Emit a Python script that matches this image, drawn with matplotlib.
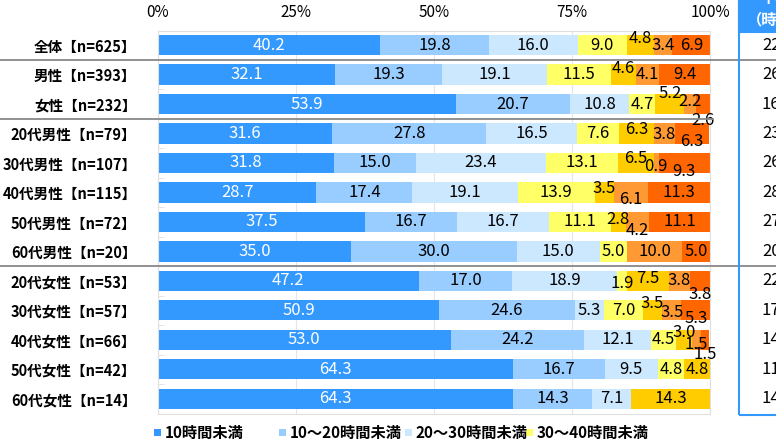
import matplotlib.pyplot as plt
from matplotlib.patches import Rectangle

plt.rcParams['font.family'] = ['Noto Sans CJK JP', 'DejaVu Sans']

# rows, top to bottom
groups = ["全体【n=625】", "男性【n=393】", "女性【n=232】",
          "20代男性【n=79】", "30代男性【n=107】", "40代男性【n=115】",
          "50代男性【n=72】", "60代男性【n=20】",
          "20代女性【n=53】", "30代女性【n=57】", "40代女性【n=66】",
          "50代女性【n=42】", "60代女性【n=14】"]

series_names = ["10時間未満", "10～20時間未満", "20～30時間未満", "30～40時間未満",
                "40～50時間未満", "50～60時間未満", "60時間以上"]

under10 = [40.2, 32.1, 53.9, 31.6, 31.8, 28.7, 37.5, 35.0, 47.2, 50.9, 53.0, 64.3, 64.3]
h10_20 = [19.8, 19.3, 20.7, 27.8, 15.0, 17.4, 16.7, 30.0, 17.0, 24.6, 24.2, 16.7, 14.3]
h20_30 = [16.0, 19.1, 10.8, 16.5, 23.4, 19.1, 16.7, 15.0, 18.9, 5.3, 12.1, 9.5, 7.1]
h30_40 = [9.0, 11.5, 4.7, 7.6, 13.1, 13.9, 11.1, 5.0, 1.9, 7.0, 4.5, 4.8, 0]
h40_50 = [4.8, 4.6, 5.2, 6.3, 6.5, 3.5, 2.8, 0, 7.5, 3.5, 3.0, 4.8, 14.3]
h50_60 = [3.4, 4.1, 2.2, 3.8, 0.9, 6.1, 4.2, 10.0, 3.8, 3.5, 1.5, 0, 0]
over60 = [6.9, 9.4, 2.6, 6.3, 9.3, 11.3, 11.1, 5.0, 3.8, 5.3, 1.5, 0, 0]

# average hours column (cut off at the right edge in the source)
averages = ["22", "26", "16", "23", "26", "28", "27", "20", "22", "17", "14", "11", "14"]

series = [under10, h10_20, h20_30, h30_40, h40_50, h50_60, over60]
colors = ["#3399FF", "#99CCFF", "#CCE8FF", "#FFFF66", "#FFCC00", "#FF9933", "#FF6600"]

# vertical nudges for crowded labels (row, segment) -> offset in row units
nudge = {
    (0, 4): -0.22, (1, 4): -0.2,
    (2, 4): -0.37, (2, 5): -0.08, (2, 6): 0.55,
    (3, 4): -0.14, (3, 5): 0.05, (3, 6): 0.27,
    (4, 4): -0.15, (4, 5): 0.12, (4, 6): 0.3,
    (5, 4): -0.12, (5, 5): 0.24,
    (6, 4): -0.08, (6, 5): 0.3,
    (8, 3): 0.1, (8, 4): -0.07, (8, 6): 0.45,
    (9, 4): -0.24, (9, 5): 0.08, (9, 6): 0.27,
    (10, 4): -0.27, (10, 5): 0.14, (10, 6): 0.5,
}

W, H = 776, 445
fig = plt.figure(figsize=(W / 100, H / 100), dpi=100)
ax = fig.add_axes([158 / W, (H - 414) / H, 552 / W, 383 / H])

ypos = list(range(len(groups)))
left = [0.0] * len(groups)
for s, (vals, col) in enumerate(zip(series, colors)):
    ax.barh(ypos, vals, left=left, height=0.68, color=col, zorder=2)
    for r, v in enumerate(vals):
        if v > 0:
            ax.text(left[r] + v / 2, r + nudge.get((r, s), 0), f"{v:.1f}",
                    ha="center", va="center", fontsize=12,
                    color="white" if s == 0 else "black", zorder=3)
    left = [a + b for a, b in zip(left, vals)]

ax.set_xlim(0, 100)
ax.set_ylim(12.51, -0.475)
ax.set_xticks([0, 25, 50, 75, 100])
ax.set_xticklabels(["0%", "25%", "50%", "75%", "100%"])
ax.xaxis.tick_top()
ax.tick_params(axis="x", length=0, pad=7, labelsize=11)
ax.set_yticks(ypos)
ax.set_yticklabels(groups, fontsize=10.5, fontweight="bold")
ax.tick_params(axis="y", length=0, pad=15.5)
ax.set_yticks([i + 0.5 for i in range(len(groups) - 1)], minor=True)
ax.tick_params(axis="y", which="minor", direction="in", length=4, color="#e0e0e0")
ax.grid(axis="x", color="#e6e6e6", linewidth=0.8, zorder=0)
for sp in ax.spines.values():
    sp.set_color("#e0e0e0")
    sp.set_linewidth(0.8)

# group separators
trans = ax.get_yaxis_transform()
for yb, x1 in [(0.5, 1.2), (2.5, 1.006), (7.5, 1.2)]:
    ax.plot([-0.3, x1], [yb, yb], color="#888888", linewidth=1.3,
            transform=trans, clip_on=False, zorder=4)

# right-hand average table
blue = "#3399FF"
fig.add_artist(Rectangle((739 / W, 1 - 415 / H), 0.1, 415 / H + 0.01,
                         transform=fig.transFigure, fill=False,
                         edgecolor=blue, linewidth=1.5))
fig.add_artist(Rectangle((739 / W, 1 - 32 / H), 0.1, 32 / H + 0.01,
                         transform=fig.transFigure, facecolor=blue,
                         edgecolor=blue, linewidth=1.5))
fig.text(760 / W, 1 - 6 / H, "平均", color="white", fontsize=11,
         ha="left", va="bottom", fontweight="bold")
fig.text(747 / W, 1 - 19 / H, "（時間）", color="white", fontsize=11,
         ha="left", va="center", fontweight="bold")
for r, a in enumerate(averages):
    ax.text(1.094, r, a, transform=trans, ha="left", va="center",
            fontsize=12, clip_on=False)

# legend (only the first four entries fit in the frame)
leg_x = [158, 283, 409, 530]
for name, col, x in zip(series_names[:4], colors[:4], leg_x):
    fig.add_artist(Rectangle(((x - 4) / W, 1 - 436 / H), 7 / W, 7 / H,
                             transform=fig.transFigure, facecolor=col,
                             edgecolor="none"))
    fig.text((x + 7) / W, 1 - 432.5 / H, name, fontsize=11, fontweight="bold",
             ha="left", va="center")

fig.savefig("out.png", dpi=100)
